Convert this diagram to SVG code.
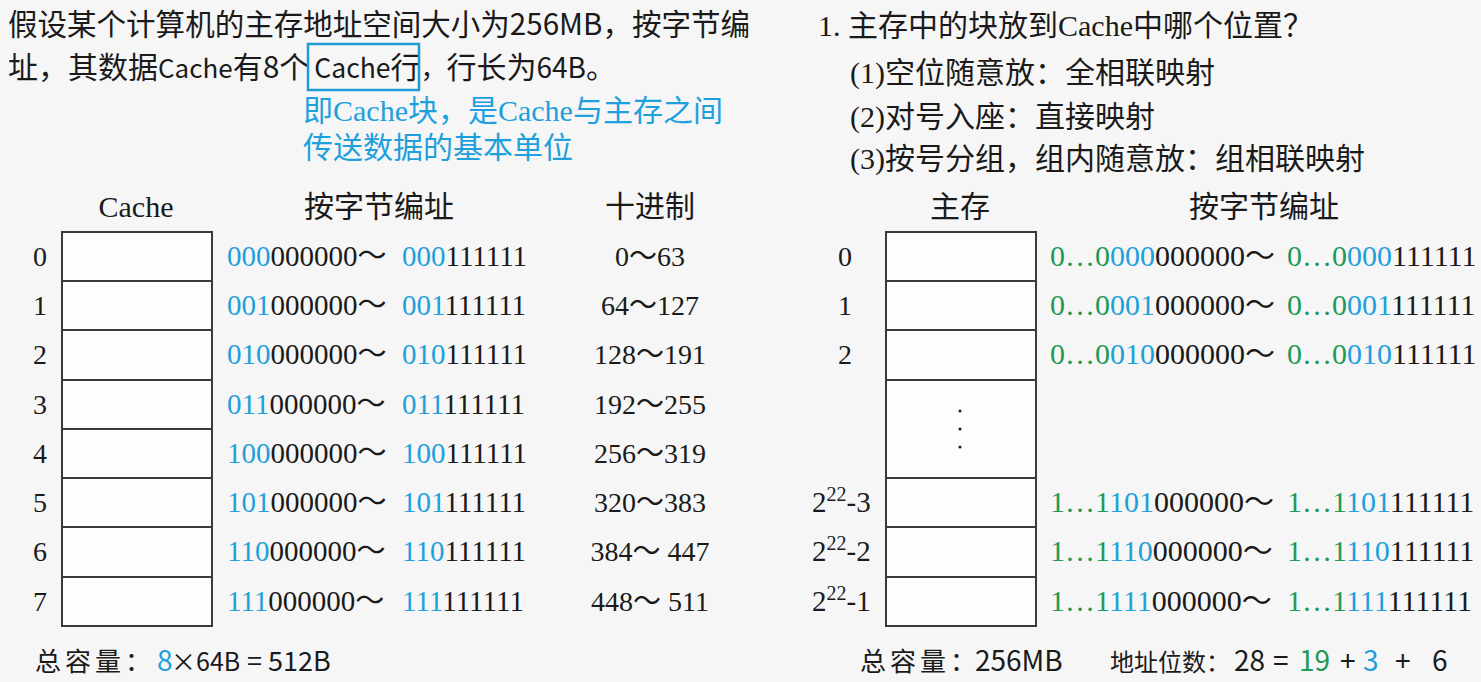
<svg xmlns="http://www.w3.org/2000/svg" width="1481" height="682" viewBox="0 0 1481 682">
<style>
.sans{font-family:"Noto Sans CJK SC","Liberation Sans",sans-serif}
.serif{font-family:"Liberation Serif","Noto Sans CJK SC",serif}
.k{fill:#1a1a1a}
.b{fill:#1ea0dc}
.g{fill:#1f9a55}
.cell{fill:#fdfdfd;stroke:#3a3a3a;stroke-width:2}
.line{stroke:#3a3a3a;stroke-width:2}
.row{font-size:29px}
.rrow{font-size:30px}
.lbl{font-size:28px;text-anchor:middle}
.hd{font-size:30px;text-anchor:middle}
</style>
<rect width="1481" height="682" fill="#f6f6f6"/>

<g id="problem" class="sans k" font-size="30">
<text x="8" y="35" textLength="742" lengthAdjust="spacingAndGlyphs">假设某个计算机的主存地址空间大小为256MB，按字节编</text>
<text x="8" y="78">址，其数据<tspan font-size="26">Cache</tspan>有8个<tspan dx="5" font-size="26.5">Cache</tspan>行<tspan font-size="26">，</tspan>行长为<tspan font-size="28">64B</tspan>。</text>
<rect x="308" y="44" width="111" height="46" fill="none" stroke="#1e9ad6" stroke-width="2.5"/>
</g>

<g id="note" class="serif b" font-size="30">
<text x="303" y="121">即Cache块，是Cache与主存之间</text>
<text x="303" y="158">传送数据的基本单位</text>
</g>

<g id="question" class="serif k" font-size="30">
<text x="818" y="36">1. 主存中的块放到Cache中哪个位置？</text>
<text x="850" y="83">(1)空位随意放：全相联映射</text>
<text x="850" y="127">(2)对号入座：直接映射</text>
<text x="850" y="169">(3)按号分组，组内随意放：组相联映射</text>
</g>

<g id="headers" class="serif k">
<text class="hd" x="136" y="217">Cache</text>
<text class="hd" x="379" y="217">按字节编址</text>
<text class="hd" x="650" y="217">十进制</text>
<text class="hd" x="960" y="217">主存</text>
<text class="hd" x="1264" y="217">按字节编址</text>
</g>

<g id="cache-table">
<rect class="cell" x="62" y="232" width="150" height="394"/>
<line class="line" x1="62" y1="281" x2="212" y2="281"/>
<line class="line" x1="62" y1="330" x2="212" y2="330"/>
<line class="line" x1="62" y1="380" x2="212" y2="380"/>
<line class="line" x1="62" y1="429" x2="212" y2="429"/>
<line class="line" x1="62" y1="478" x2="212" y2="478"/>
<line class="line" x1="62" y1="527" x2="212" y2="527"/>
<line class="line" x1="62" y1="577" x2="212" y2="577"/>
</g>

<g id="cache-labels" class="serif k">
<text class="lbl" x="40" y="266">0</text>
<text class="lbl" x="40" y="315">1</text>
<text class="lbl" x="40" y="364">2</text>
<text class="lbl" x="40" y="414">3</text>
<text class="lbl" x="40" y="463">4</text>
<text class="lbl" x="40" y="512">5</text>
<text class="lbl" x="40" y="561">6</text>
<text class="lbl" x="40" y="611">7</text>
</g>

<g id="cache-addresses" class="serif k row">
<text y="266"><tspan x="227" class="b">000</tspan><tspan>000000～</tspan><tspan x="402" class="b">000</tspan><tspan>111111</tspan></text>
<text y="315"><tspan x="227" class="b">001</tspan><tspan>000000～</tspan><tspan x="402" class="b">001</tspan><tspan>111111</tspan></text>
<text y="364"><tspan x="227" class="b">010</tspan><tspan>000000～</tspan><tspan x="402" class="b">010</tspan><tspan>111111</tspan></text>
<text y="414"><tspan x="227" class="b">011</tspan><tspan>000000～</tspan><tspan x="402" class="b">011</tspan><tspan>111111</tspan></text>
<text y="463"><tspan x="227" class="b">100</tspan><tspan>000000～</tspan><tspan x="402" class="b">100</tspan><tspan>111111</tspan></text>
<text y="512"><tspan x="227" class="b">101</tspan><tspan>000000～</tspan><tspan x="402" class="b">101</tspan><tspan>111111</tspan></text>
<text y="561"><tspan x="227" class="b">110</tspan><tspan>000000～</tspan><tspan x="402" class="b">110</tspan><tspan>111111</tspan></text>
<text y="611"><tspan x="227" class="b">111</tspan><tspan>000000～</tspan><tspan x="402" class="b">111</tspan><tspan>111111</tspan></text>
</g>

<g id="decimal" class="serif k" font-size="28" text-anchor="middle">
<text x="650" y="266">0～63</text>
<text x="650" y="315">64～127</text>
<text x="650" y="364">128～191</text>
<text x="650" y="414">192～255</text>
<text x="650" y="463">256～319</text>
<text x="650" y="512">320～383</text>
<text x="650" y="561">384～ 447</text>
<text x="650" y="611">448～ 511</text>
</g>

<g id="cache-total" class="sans k">
<text y="671"><tspan x="35" font-size="26" letter-spacing="4">总容量：</tspan><tspan x="157" font-size="28" class="b">8</tspan><tspan x="171" font-size="25">×64B</tspan><tspan x="247" font-size="27">=</tspan><tspan x="268" font-size="27">512B</tspan></text>
</g>

<g id="memory-table">
<rect class="cell" x="886" y="232" width="150" height="394"/>
<line class="line" x1="886" y1="281" x2="1036" y2="281"/>
<line class="line" x1="886" y1="330" x2="1036" y2="330"/>
<line class="line" x1="886" y1="380" x2="1036" y2="380"/>
<line class="line" x1="886" y1="478" x2="1036" y2="478"/>
<line class="line" x1="886" y1="527" x2="1036" y2="527"/>
<line class="line" x1="886" y1="577" x2="1036" y2="577"/>
<circle cx="960" cy="411" r="1.6" fill="#222"/>
<circle cx="960" cy="429" r="1.6" fill="#222"/>
<circle cx="960" cy="447" r="1.6" fill="#222"/>
</g>

<g id="memory-labels" class="serif k">
<text class="lbl" x="845" y="266">0</text>
<text class="lbl" x="845" y="315">1</text>
<text class="lbl" x="845" y="364">2</text>
<text x="812" y="512" font-size="29">2<tspan dy="-11" font-size="20">22</tspan><tspan dy="11">-3</tspan></text>
<text x="812" y="561" font-size="29">2<tspan dy="-11" font-size="20">22</tspan><tspan dy="11">-2</tspan></text>
<text x="812" y="611" font-size="29">2<tspan dy="-11" font-size="20">22</tspan><tspan dy="11">-1</tspan></text>
</g>

<g id="memory-addresses" class="serif k rrow">
<text y="266"><tspan x="1050" class="g">0…0</tspan><tspan class="b">000</tspan><tspan>000000～</tspan><tspan x="1287" class="g">0…0</tspan><tspan class="b">000</tspan><tspan>111111</tspan></text>
<text y="315"><tspan x="1050" class="g">0…0</tspan><tspan class="b">001</tspan><tspan>000000～</tspan><tspan x="1287" class="g">0…0</tspan><tspan class="b">001</tspan><tspan>111111</tspan></text>
<text y="364"><tspan x="1050" class="g">0…0</tspan><tspan class="b">010</tspan><tspan>000000～</tspan><tspan x="1287" class="g">0…0</tspan><tspan class="b">010</tspan><tspan>111111</tspan></text>
<text y="512"><tspan x="1050" class="g">1…1</tspan><tspan class="b">101</tspan><tspan>000000～</tspan><tspan x="1287" class="g">1…1</tspan><tspan class="b">101</tspan><tspan>111111</tspan></text>
<text y="561"><tspan x="1050" class="g">1…1</tspan><tspan class="b">110</tspan><tspan>000000～</tspan><tspan x="1287" class="g">1…1</tspan><tspan class="b">110</tspan><tspan>111111</tspan></text>
<text y="611"><tspan x="1050" class="g">1…1</tspan><tspan class="b">111</tspan><tspan>000000～</tspan><tspan x="1287" class="g">1…1</tspan><tspan class="b">111</tspan><tspan>111111</tspan></text>
</g>

<g id="memory-total" class="sans k">
<text y="671"><tspan x="860" font-size="26" letter-spacing="4">总容量：</tspan><tspan x="975" font-size="28">256MB</tspan><tspan x="1110" font-size="24">地址位数：</tspan><tspan x="1234" font-size="28">28</tspan><tspan x="1273" font-size="28">=</tspan><tspan x="1299" font-size="28" class="g">19</tspan><tspan x="1340" font-size="28">+</tspan><tspan x="1363" font-size="28" class="b">3</tspan><tspan x="1395" font-size="28">+</tspan><tspan x="1432" font-size="28">6</tspan></text>
</g>

<g id="connectors"/>
</svg>
